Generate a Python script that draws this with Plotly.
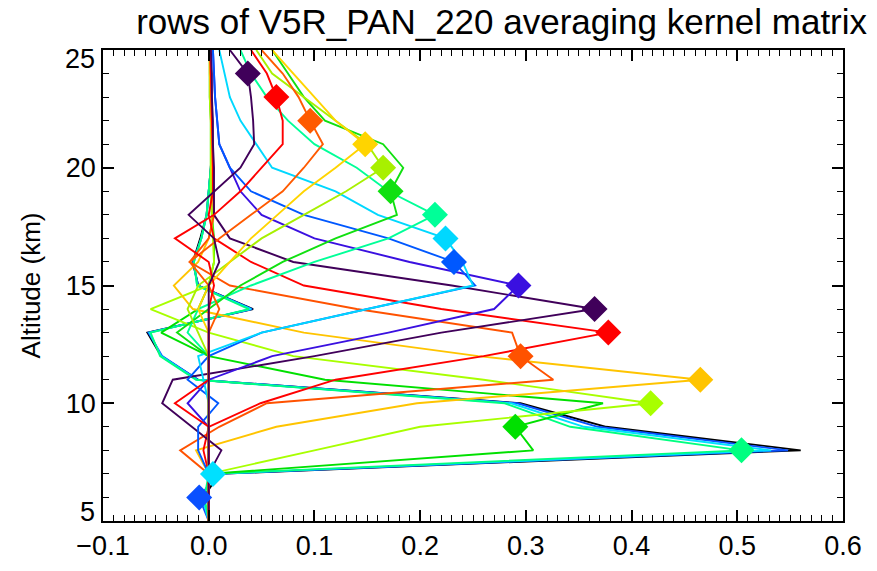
import plotly.graph_objects as go

altitudes = list(range(5, 26))  # km, 5..25

row_altitudes = [5, 6, 7, 8, 9, 10, 11, 12, 13, 14, 15, 16, 17, 18, 19, 20, 21, 22, 23, 24]
row_colors = ["#000000", "#0a50ff", "#00e0ff", "#00ff80", "#00e000", "#a8ff00", "#ffc400",
              "#ff5200", "#ff0000", "#40005a", "#3a10e0", "#0058ff", "#00d8ff", "#00ff98",
              "#10e010", "#a8f000", "#ffd400", "#ff5a00", "#ff0000", "#40005a"]
show_marker = [False] + [True] * 19

ak_rows = [
    [0.0, -0.005, 0.010, 0.560, 0.376, 0.295, -0.010, -0.045, -0.058, 0.042, -0.010, -0.015, -0.008, -0.002, 0.000, 0.002, 0.003, 0.003, 0.002, 0.002, 0.001],
    [0.0, -0.009, 0.008, 0.548, 0.368, 0.292, -0.010, -0.044, -0.057, 0.041, -0.010, -0.015, -0.007, -0.002, 0.000, 0.002, 0.003, 0.003, 0.002, 0.002, 0.001],
    [0.0, -0.006, 0.004, 0.532, 0.355, 0.286, -0.011, -0.045, -0.056, 0.040, -0.011, -0.014, -0.007, -0.002, 0.000, 0.002, 0.003, 0.003, 0.002, 0.002, 0.001],
    [0.0, -0.004, 0.000, 0.504, 0.342, 0.280, -0.012, -0.046, -0.055, 0.038, -0.011, -0.014, -0.007, -0.002, 0.000, 0.002, 0.003, 0.003, 0.002, 0.002, 0.001],
    [0.0, 0.000, 0.000, 0.307, 0.290, 0.373, 0.110, 0.000, -0.045, -0.010, 0.000, 0.005, 0.005, 0.003, 0.002, 0.002, 0.002, 0.002, 0.001, 0.001, 0.001],
    [0.0, 0.000, 0.000, 0.100, 0.200, 0.418, 0.260, 0.080, 0.000, -0.055, 0.000, 0.005, 0.004, 0.003, 0.002, 0.002, 0.002, 0.002, 0.001, 0.001, 0.001],
    [0.0, 0.000, 0.000, -0.012, 0.064, 0.197, 0.465, 0.255, 0.090, -0.015, -0.033, -0.010, 0.000, 0.005, 0.004, 0.003, 0.003, 0.002, 0.002, 0.001, 0.001],
    [0.0, 0.000, 0.000, -0.027, 0.010, 0.055, 0.326, 0.295, 0.287, 0.140, 0.020, -0.018, 0.000, 0.005, 0.004, 0.004, 0.003, 0.003, 0.002, 0.002, 0.001],
    [0.0, 0.000, 0.000, -0.005, 0.000, 0.049, 0.120, 0.260, 0.378, 0.220, 0.090, 0.040, 0.005, 0.000, 0.004, 0.004, 0.004, 0.003, 0.003, 0.002, 0.002],
    [0.0, 0.000, 0.000, 0.012, -0.016, -0.044, -0.034, 0.100, 0.220, 0.365, 0.230, 0.080, 0.020, 0.005, 0.005, 0.005, 0.004, 0.004, 0.003, 0.003, 0.002],
    [0.0, 0.000, 0.000, 0.000, 0.000, -0.020, 0.000, 0.060, 0.170, 0.270, 0.293, 0.190, 0.100, 0.050, 0.030, 0.020, 0.010, 0.008, 0.006, 0.005, 0.004],
    [0.0, 0.000, 0.000, -0.010, -0.010, 0.009, -0.020, 0.000, 0.050, 0.150, 0.252, 0.232, 0.170, 0.090, 0.040, 0.020, 0.010, 0.008, 0.006, 0.005, 0.004],
    [0.0, 0.000, 0.000, 0.000, 0.000, 0.000, -0.005, -0.010, 0.050, 0.150, 0.250, 0.240, 0.224, 0.160, 0.120, 0.060, 0.045, 0.030, 0.020, 0.015, 0.010],
    [0.0, 0.000, 0.000, 0.000, 0.000, 0.000, 0.000, 0.000, -0.020, -0.010, 0.040, 0.100, 0.170, 0.214, 0.170, 0.140, 0.100, 0.075, 0.055, 0.040, 0.030],
    [0.0, 0.000, 0.000, 0.000, 0.000, 0.000, 0.000, 0.000, -0.030, 0.000, 0.030, 0.070, 0.120, 0.178, 0.172, 0.184, 0.165, 0.110, 0.090, 0.075, 0.060],
    [0.0, 0.000, 0.000, 0.000, 0.000, 0.000, 0.000, 0.000, -0.010, -0.020, -0.010, 0.020, 0.050, 0.090, 0.130, 0.165, 0.150, 0.120, 0.090, 0.060, 0.045],
    [0.0, 0.000, 0.000, 0.000, 0.000, 0.000, 0.000, 0.000, 0.000, -0.010, 0.000, 0.020, 0.040, 0.065, 0.090, 0.120, 0.148, 0.120, 0.100, 0.080, 0.060],
    [0.0, 0.000, 0.000, 0.000, 0.000, 0.000, 0.000, 0.000, 0.000, 0.010, 0.000, -0.018, 0.010, 0.040, 0.070, 0.090, 0.108, 0.096, 0.085, 0.070, 0.050],
    [0.0, 0.000, 0.000, 0.000, 0.000, -0.032, 0.000, 0.000, 0.000, 0.000, 0.005, 0.000, -0.032, 0.005, 0.030, 0.050, 0.070, 0.070, 0.064, 0.055, 0.040],
    [0.0, 0.000, 0.000, 0.000, 0.000, 0.000, 0.000, 0.000, 0.000, 0.000, 0.000, 0.010, 0.005, -0.019, 0.005, 0.030, 0.043, 0.042, 0.040, 0.037, 0.020],
]

y_tick_vals = [5, 10, 15, 20, 25]
y_tick_text = ["", "10", "15", "20", ""]          # end labels drawn nudged inward, as in the original
y_end_labels = [(5, "5", 9), (25, "25", -9)]       # (value, text, pixel shift)

title_text = "rows of V5R_PAN_220 averaging kernel matrix"
y_title = "Altitude (km)"

fig = go.Figure()
for row, color in zip(ak_rows, row_colors):
    fig.add_trace(go.Scatter(x=row, y=altitudes, mode="lines",
                             line=dict(color=color, width=1.9), showlegend=False))
for row, ralt, color, show in zip(ak_rows, row_altitudes, row_colors, show_marker):
    if not show:
        continue
    idx = altitudes.index(ralt)
    fig.add_trace(go.Scatter(x=[row[idx]], y=[ralt], mode="markers",
                             marker=dict(symbol="diamond", size=20, color=color, line=dict(width=0)),
                             showlegend=False))

font_family = "Liberation Sans"
fig.update_layout(
    width=877, height=571,
    margin=dict(l=103, r=34, t=50, b=50),
    paper_bgcolor="white", plot_bgcolor="white",
    title=dict(text=title_text, x=0.572, xanchor="center", y=0.962, yanchor="middle",
               font=dict(family=font_family, size=35, color="black")),
    font=dict(family=font_family, color="black"),
)
fig.update_xaxes(range=[-0.1, 0.6], tick0=0, dtick=0.1, tickformat=".1f",
                 tickfont=dict(size=27), automargin=False,
                 showgrid=False, zeroline=False, showline=True, linecolor="black", linewidth=1.6,
                 mirror="ticks", ticks="inside", ticklen=11, tickwidth=1.5, tickcolor="black",
                 minor=dict(dtick=0.01, ticks="inside", ticklen=6, tickwidth=1.2, tickcolor="black"))
fig.update_yaxes(range=[5, 25], tickmode="array", tickvals=y_tick_vals, ticktext=y_tick_text,
                 tickfont=dict(size=27), automargin=False,
                 title=dict(text=y_title, font=dict(size=26), standoff=18),
                 showgrid=False, zeroline=False, showline=True, linecolor="black", linewidth=1.6,
                 mirror="ticks", ticks="inside", ticklen=11, tickwidth=1.5, tickcolor="black",
                 minor=dict(dtick=1, ticks="inside", ticklen=6, tickwidth=1.2, tickcolor="black"))
for val, txt, shift in y_end_labels:
    fig.add_annotation(x=0, xref="paper", xanchor="right", xshift=-6, y=val, yref="y",
                       yanchor="middle", yshift=shift, text=txt, showarrow=False,
                       font=dict(family=font_family, size=27, color="black"))

fig.write_html("out.html")
